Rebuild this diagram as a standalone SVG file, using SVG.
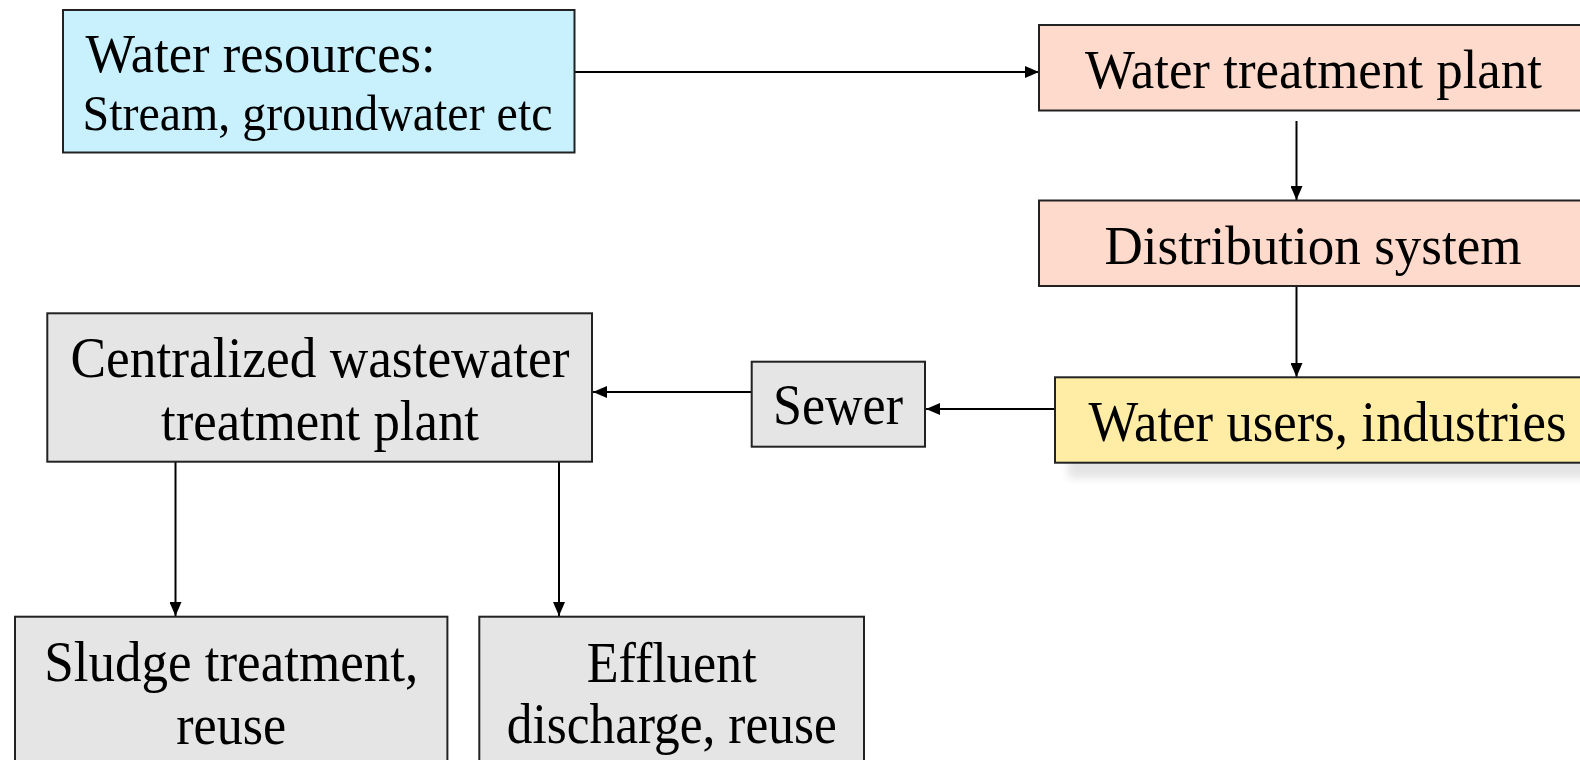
<svg xmlns="http://www.w3.org/2000/svg" width="1580" height="760" viewBox="0 0 1580 760">
<style>
  .box { stroke: #222; stroke-width: 2; }
  .blue { fill: #C8F0FD; }
  .salmon { fill: #FDDACB; }
  .yellow { fill: #FFEDA6; }
  .gray { fill: #E5E5E5; }
  text { font-family: "Liberation Serif", "Times New Roman", serif; fill: #000; }
  .c { text-anchor: middle; }
  .conn { stroke: #000; stroke-width: 2; fill: none; marker-end: url(#arr); }
</style>
<defs>
  <marker id="arr" viewBox="0 0 14 12" refX="14" refY="6" markerWidth="14" markerHeight="12" markerUnits="userSpaceOnUse" orient="auto">
    <path d="M0,0 L14,6 L0,12 z" fill="#000"/>
  </marker>
  <filter id="sh" x="-10%" y="-30%" width="120%" height="160%">
    <feGaussianBlur stdDeviation="4"/>
  </filter>
</defs>
<rect width="1580" height="760" fill="#fff"/>

<g id="connectors">
  <line class="conn" x1="575" y1="72" x2="1039" y2="72"/>
  <line class="conn" x1="1296.5" y1="121" x2="1296.5" y2="200"/>
  <line class="conn" x1="1296.5" y1="286" x2="1296.5" y2="377"/>
  <line class="conn" x1="1055" y1="409" x2="926" y2="409"/>
  <line class="conn" x1="752" y1="392" x2="593" y2="392"/>
  <line class="conn" x1="175.5" y1="462" x2="175.5" y2="616"/>
  <line class="conn" x1="559" y1="462" x2="559" y2="616"/>
</g>

<g id="water-resources">
  <rect class="box blue" x="63" y="10" width="511.5" height="142.5"/>
  <text x="85.5" y="72" font-size="54" textLength="350" lengthAdjust="spacingAndGlyphs">Water resources:</text>
  <text x="82.5" y="129.5" font-size="50" textLength="470" lengthAdjust="spacingAndGlyphs">Stream, groundwater etc</text>
</g>

<g id="water-treatment-plant">
  <rect class="box salmon" x="1039" y="25" width="560" height="85.5"/>
  <text x="1085" y="88.3" font-size="55" textLength="457" lengthAdjust="spacingAndGlyphs">Water treatment plant</text>
</g>

<g id="distribution-system">
  <rect class="box salmon" x="1039" y="200.5" width="560" height="85.5"/>
  <text x="1104.5" y="264" font-size="55" textLength="417" lengthAdjust="spacingAndGlyphs">Distribution system</text>
</g>

<g id="water-users">
  <rect x="1068" y="392" width="560" height="86" fill="#000" opacity="0.1" filter="url(#sh)"/>
  <rect class="box yellow" x="1055" y="377.3" width="560" height="85.4"/>
  <text x="1088.5" y="440.7" font-size="56" textLength="478" lengthAdjust="spacingAndGlyphs">Water users, industries</text>
</g>

<g id="sewer">
  <rect class="box gray" x="751.7" y="361.7" width="173.3" height="85"/>
  <text x="773" y="424" font-size="56" textLength="130" lengthAdjust="spacingAndGlyphs">Sewer</text>
</g>

<g id="centralized-wwtp">
  <rect class="box gray" x="47.3" y="313.3" width="544.7" height="148.4"/>
  <text class="c" x="320" y="376.7" font-size="58" textLength="499" lengthAdjust="spacingAndGlyphs">Centralized wastewater</text>
  <text class="c" x="320" y="440" font-size="58" textLength="318" lengthAdjust="spacingAndGlyphs">treatment plant</text>
</g>

<g id="sludge-treatment">
  <rect class="box gray" x="15" y="616.7" width="432.4" height="160"/>
  <text class="c" x="231.2" y="681" font-size="56" textLength="374" lengthAdjust="spacingAndGlyphs">Sludge treatment,</text>
  <text class="c" x="231.2" y="744" font-size="56" textLength="110" lengthAdjust="spacingAndGlyphs">reuse</text>
</g>

<g id="effluent-discharge">
  <rect class="box gray" x="479.3" y="616.7" width="384.7" height="160"/>
  <text class="c" x="671.7" y="682" font-size="56" textLength="170" lengthAdjust="spacingAndGlyphs">Effluent</text>
  <text class="c" x="671.7" y="743" font-size="56" textLength="330" lengthAdjust="spacingAndGlyphs">discharge, reuse</text>
</g>
</svg>
